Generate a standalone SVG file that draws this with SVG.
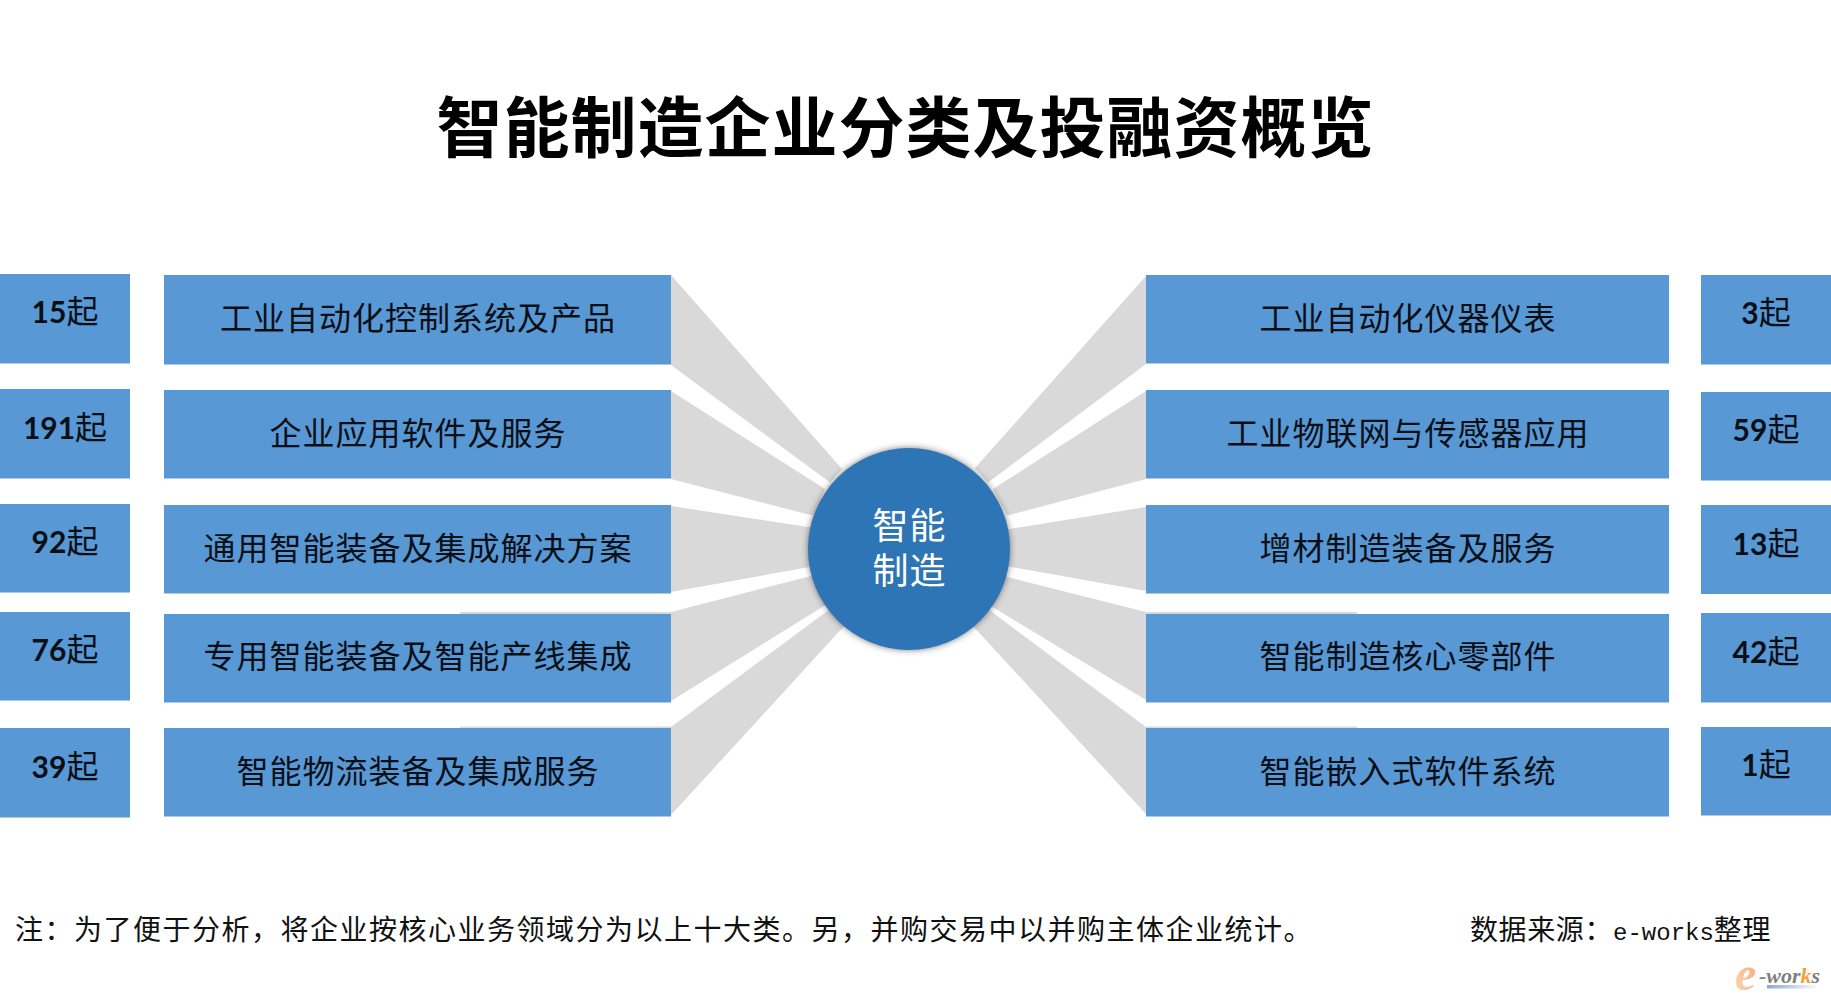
<svg xmlns="http://www.w3.org/2000/svg" width="1831" height="1000" viewBox="0 0 1831 1000">
<style>
text{font-family:"Noto Sans CJK SC","Noto Sans",sans-serif}
.box{fill:#5898d4}
.wedge{fill:#d9d9d9}
.lbl{font-size:32px;letter-spacing:1px;text-anchor:middle;fill:#0a0f16}
.cnt{font-size:32px;text-anchor:middle;fill:#0a0f16}
.num{font-family:Lato,"Liberation Sans",sans-serif;font-weight:700;font-size:30px}
.note{font-size:28px;letter-spacing:1.5px;fill:#111}
.mono{font-family:"Liberation Mono",monospace;font-size:24px;letter-spacing:0}
</style>
<defs>
<filter id="soft" x="-20%" y="-20%" width="140%" height="140%"><feDropShadow dx="0" dy="0" stdDeviation="3" flood-color="#333" flood-opacity="0.65"/></filter>
<linearGradient id="bar" x1="0" x2="1" y1="0" y2="0"><stop offset="0" stop-color="#8ea5d4"/><stop offset="1" stop-color="#fff"/></linearGradient>
<linearGradient id="eg" x1="0" x2="1" y1="1" y2="0"><stop offset="0" stop-color="#f8d9bd"/><stop offset="1" stop-color="#f2a86c"/></linearGradient>
</defs>
<rect width="1831" height="1000" fill="#fff"/>
<text id="title" x="905.500" y="152" font-size="66" font-weight="700" letter-spacing="1" text-anchor="middle" fill="#000">智能制造企业分类及投融资概览</text>
<g id="connectors">
<polygon class="wedge" points="671,275 842,469 830,482.500 671,365"/>
<polygon class="wedge" points="671,391 825,489 812.700,515.600 671,479"/>
<polygon class="wedge" points="671,506 815,528 815,566 671,592"/>
<polygon class="wedge" points="671,612 815,575 828,603.600 671,701"/>
<polygon class="wedge" points="671,727 830,609 845,625 671,815"/>
<polygon class="wedge" points="1146,276 975,468 988,482.500 1146,364"/>
<polygon class="wedge" points="1146,391 993,489 1007,515.600 1146,479"/>
<polygon class="wedge" points="1146,507 1003,530 1003,565.500 1146,591"/>
<polygon class="wedge" points="1146,612 1002,575.600 987,603.600 1146,700"/>
<polygon class="wedge" points="1146,727 988,609 972,625 1146,814"/>
<rect class="wedge" x="460" y="612" width="211" height="2"/>
<rect class="wedge" x="460" y="726.500" width="211" height="2"/>
<rect class="wedge" x="1146" y="612" width="211" height="2"/>
<rect class="wedge" x="1146" y="726.500" width="211" height="2"/>
</g>
<g id="center"><circle cx="909" cy="549" r="101" fill="#2e74b5" filter="url(#soft)"/>
<text font-size="36" letter-spacing="1" text-anchor="middle" fill="#fff"><tspan x="909.500" y="539">智能</tspan><tspan x="909.500" y="584">制造</tspan></text></g>
<g id="l1"><rect class="box" x="164" y="275" width="507" height="89.500"/><text class="lbl" x="418" y="330">工业自动化控制系统及产品</text></g>
<g id="l2"><rect class="box" x="164" y="390" width="507" height="88.500"/><text class="lbl" x="418" y="445">企业应用软件及服务</text></g>
<g id="l3"><rect class="box" x="164" y="505" width="507" height="88.500"/><text class="lbl" x="418" y="560">通用智能装备及集成解决方案</text></g>
<g id="l4"><rect class="box" x="164" y="614" width="507" height="88.500"/><text class="lbl" x="418" y="668">专用智能装备及智能产线集成</text></g>
<g id="l5"><rect class="box" x="164" y="728" width="507" height="88.500"/><text class="lbl" x="418" y="783">智能物流装备及集成服务</text></g>
<g id="r1"><rect class="box" x="1146" y="275" width="523" height="88.500"/><text class="lbl" x="1408" y="330">工业自动化仪器仪表</text></g>
<g id="r2"><rect class="box" x="1146" y="390" width="523" height="88.500"/><text class="lbl" x="1408" y="445">工业物联网与传感器应用</text></g>
<g id="r3"><rect class="box" x="1146" y="505" width="523" height="88.500"/><text class="lbl" x="1408" y="560">增材制造装备及服务</text></g>
<g id="r4"><rect class="box" x="1146" y="614" width="523" height="88.500"/><text class="lbl" x="1408" y="668">智能制造核心零部件</text></g>
<g id="r5"><rect class="box" x="1146" y="728" width="523" height="88.500"/><text class="lbl" x="1408" y="783">智能嵌入式软件系统</text></g>
<g id="cl1"><rect class="box" x="0" y="274" width="130" height="89.500"/><text class="cnt" x="65" y="323"><tspan class="num">15</tspan>起</text></g>
<g id="cl2"><rect class="box" x="0" y="389" width="130" height="89.500"/><text class="cnt" x="65" y="439"><tspan class="num">191</tspan>起</text></g>
<g id="cl3"><rect class="box" x="0" y="504" width="130" height="88.500"/><text class="cnt" x="65" y="553"><tspan class="num">92</tspan>起</text></g>
<g id="cl4"><rect class="box" x="0" y="612" width="130" height="88.500"/><text class="cnt" x="65" y="661"><tspan class="num">76</tspan>起</text></g>
<g id="cl5"><rect class="box" x="0" y="728" width="130" height="89.500"/><text class="cnt" x="65" y="778"><tspan class="num">39</tspan>起</text></g>
<g id="cr1"><rect class="box" x="1701" y="275" width="130" height="89.500"/><text class="cnt" x="1766" y="324"><tspan class="num">3</tspan>起</text></g>
<g id="cr2"><rect class="box" x="1701" y="392" width="130" height="88.500"/><text class="cnt" x="1766" y="441"><tspan class="num">59</tspan>起</text></g>
<g id="cr3"><rect class="box" x="1701" y="505" width="130" height="89"/><text class="cnt" x="1766" y="555"><tspan class="num">13</tspan>起</text></g>
<g id="cr4"><rect class="box" x="1701" y="613" width="130" height="89.500"/><text class="cnt" x="1766" y="663"><tspan class="num">42</tspan>起</text></g>
<g id="cr5"><rect class="box" x="1701" y="727" width="130" height="88.500"/><text class="cnt" x="1766" y="776"><tspan class="num">1</tspan>起</text></g>
<text id="note" class="note" x="15" y="940">注&#xFF1A;为了便于分析&#xFF0C;将企业按核心业务领域分为以上十大类。另&#xFF0C;并购交易中以并购主体企业统计。</text>
<text id="source" class="note" x="1470" y="940" style="letter-spacing:.6px">数据来源&#xFF1A;<tspan class="mono">e-works</tspan>整理</text>
<g id="logo">
<rect x="1767" y="985" width="52" height="3.500" fill="url(#bar)"/>
<text x="1735" y="990" font-size="48" font-weight="700" font-style="italic" fill="url(#eg)" style="font-family:'Liberation Serif',serif">e</text>
<text x="1759" y="983" font-size="22" font-weight="700" font-style="italic" fill="#7f7f7f" style="font-family:'Liberation Serif',serif">-wor<tspan fill="#f2a23c">k</tspan>s</text>
</g>
</svg>
